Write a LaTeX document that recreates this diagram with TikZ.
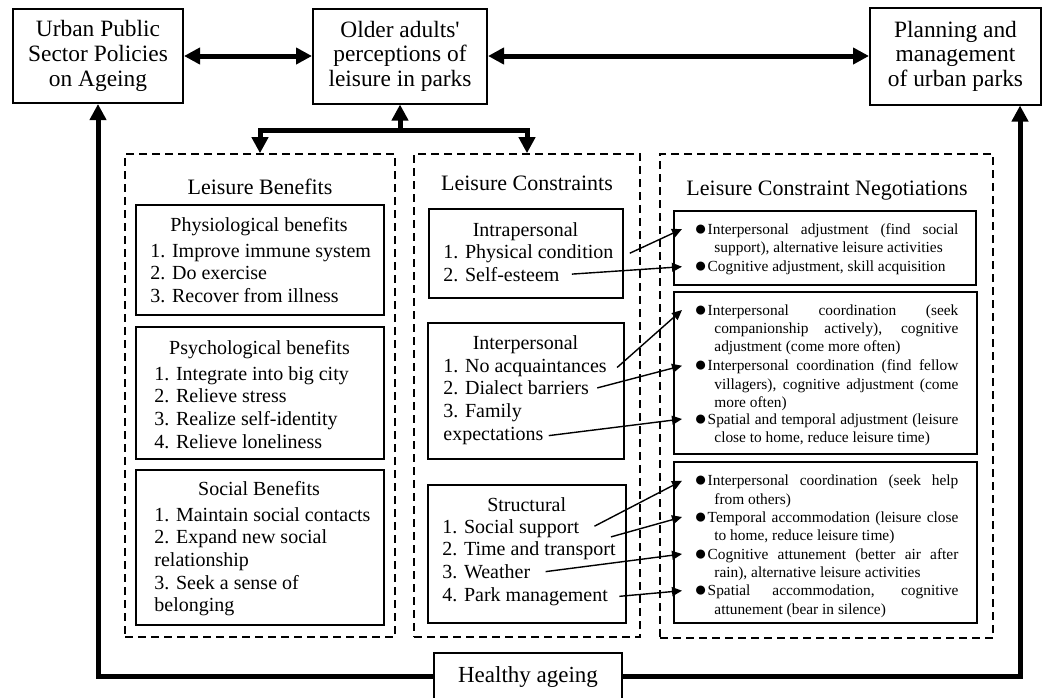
\documentclass[tikz,border=0pt]{standalone}
\usepackage{fontspec}
\setmainfont{Liberation Serif}
\usetikzlibrary{arrows.meta}

% bullet with hanging indent for the negotiation strategies
\newcommand{\tac}[1]{\hangindent=10pt\hangafter=1 \raisebox{-0.6pt}{\fontsize{10.5}{0}\selectfont ●}\kern0.3pt #1\par}

\begin{document}
\begin{tikzpicture}[x=0.5pt, y=-0.5pt,
            topbox/.style={draw, line width=1pt, inner sep=0pt, align=center, font=\fontsize{11.7}{12.3}\selectfont},
            panel/.style={draw, dash pattern=on 4pt off 2.5pt, line width=0.8pt, inner sep=0pt},
            group/.style={draw, line width=0.8pt, inner sep=0pt},
            head/.style={anchor=base, inner sep=0pt, font=\fontsize{10}{12}\selectfont},
            item/.style={anchor=base west, inner sep=0pt, font=\fontsize{10}{12}\selectfont},
            tactic/.style={anchor=base west, inner sep=0pt, text width=132pt, align=justify, font=\fontsize{7.7}{9.15}\selectfont},
            flow/.style={line width=2.5pt, >={Triangle[length=8pt, width=8pt]}, ->},
            link/.style={line width=0.7pt, >={Triangle[length=5pt, width=4.5pt]}, ->}
        ]
        \useasboundingbox (0,0) rectangle (1047,697);

        % top row
        \node[topbox, minimum width=85pt, minimum height=47pt] (urban) at (98,56) {Urban Public\\Sector Policies\\on Ageing};
        \node[topbox, minimum width=87pt, minimum height=47.5pt] (older) at (400,56) {Older adults\textquotesingle\\perceptions of\\leisure in parks};
        \node[topbox, minimum width=85.5pt, minimum height=48.5pt] (planning) at (955.5,56) {Planning and\\management\\of urban parks};
        \node[topbox, font=\fontsize{11.5}{13}\selectfont, minimum width=94pt, minimum height=23.5pt] (healthy) at (528,676.5) {Healthy ageing};

        % dashed panels
        \node[panel, minimum width=135pt, minimum height=241.5pt] (benefits) at (260,395.5) {};
        \node[panel, minimum width=113pt, minimum height=241.5pt] (constraints) at (527,395.5) {};
        \node[panel, minimum width=166.5pt, minimum height=242pt] (negotiations) at (826.5,396) {};

        \node[head, font=\fontsize{11}{13}\selectfont] (bentitle) at (260,194) {Leisure Benefits};
        \node[head, font=\fontsize{11}{13}\selectfont] (contitle) at (527,190) {Leisure Constraints};
        \node[head, font=\fontsize{11}{13}\selectfont] (negtitle) at (827,195) {Leisure Constraint Negotiations};

        % leisure benefits
        \node[group, minimum width=124pt, minimum height=55pt] (phys) at (260,260) {};
        \node[head] (physhead) at (259,231.5) {Physiological benefits};
        \foreach \t [count=\i] in {1. Improve immune system, 2. Do exercise, 3. Recover from illness} {
                \node[item] (phys\i) at (150, {234.3+22.7*\i}) {\t};
            }

        \node[group, minimum width=124pt, minimum height=66pt] (psych) at (260,393) {};
        \node[head] (psychhead) at (259.5,354) {Psychological benefits};
        \foreach \t [count=\i] in {1. Integrate into big city, 2. Relieve stress, 3. Realize self-identity, 4. Relieve loneliness} {
                \node[item] (psych\i) at (154, {357.3+22.7*\i}) {\t};
            }

        \node[group, minimum width=124pt, minimum height=77.5pt] (social) at (260,547.5) {};
        \node[head] (socialhead) at (259,495) {Social Benefits};
        \foreach \t [count=\i] in {1. Maintain social contacts, 2. Expand new social, relationship, 3. Seek a sense of, belonging} {
                \node[item] (social\i) at (154, {498.3+22.7*\i}) {\t};
            }

        % leisure constraints
        \node[group, minimum width=97pt, minimum height=44.5pt] (intra) at (526,253.5) {};
        \node[head] (intrahead) at (525.5,236) {Intrapersonal};
        \foreach \t [count=\i] in {1. Physical condition, 2. Self-esteem} {
                \node[item] (intra\i) at (443, {235+23*\i}) {\t};
            }

        \node[group, minimum width=98pt, minimum height=68pt] (inter) at (526,391) {};
        \node[head] (interhead) at (525.5,349) {Interpersonal};
        \foreach \t [count=\i] in {1. No acquaintances, 2. Dialect barriers, 3. Family, expectations} {
                \node[item] (inter\i) at (443, {349.3+22.7*\i}) {\t};
            }

        \node[group, minimum width=99pt, minimum height=69pt] (struc) at (527,554) {};
        \node[head] (struchead) at (526.7,511) {Structural};
        \foreach \t [count=\i] in {1. Social support, 2. Time and transport, 3. Weather, 4. Park management} {
                \node[item] (struc\i) at (442, {510.3+22.7*\i}) {\t};
            }

        % negotiation strategies
        \node[group, minimum width=151pt, minimum height=37pt] (nego1) at (825,248) {};
        \node[tactic] (n11) at (694,234) {\tac{Interpersonal adjustment (find social\linebreak support), alternative leisure activities}};
        \node[tactic] (n12) at (694,271.7) {\tac{Cognitive adjustment, skill acquisition}};

        \node[group, minimum width=151.5pt, minimum height=81pt] (nego2) at (825.5,373) {};
        \node[tactic] (n21) at (694,315) {\tac{Interpersonal coordination (seek\linebreak companionship actively), cognitive\linebreak adjustment (come more often)}};
        \node[tactic] (n22) at (694,370.7) {\tac{Interpersonal coordination (find fellow\linebreak villagers), cognitive adjustment (come\linebreak more often)}};
        \node[tactic] (n23) at (694,424) {\tac{Spatial and temporal adjustment (leisure\linebreak close to home, reduce leisure time)}};

        \node[group, minimum width=151.5pt, minimum height=80.5pt] (nego3) at (825.5,542.5) {};
        \node[tactic] (n31) at (694,485.7) {\tac{Interpersonal coordination (seek help\linebreak from others)}};
        \node[tactic] (n32) at (694,522) {\tac{Temporal accommodation (leisure close\linebreak to home, reduce leisure time)}};
        \node[tactic] (n33) at (694,559) {\tac{Cognitive attunement (better air after\linebreak rain), alternative leisure activities}};
        \node[tactic] (n34) at (694,595.7) {\tac{Spatial accommodation, cognitive\linebreak attunement (bear in silence)}};

        % thick connectors
        \draw[flow, <->] (urban) -- (older);
        \draw[flow, <->] (older) -- (planning);
        \coordinate (fork) at (400,130);
        \draw[flow] (fork) -- (older);
        \draw[flow] (fork) -| (benefits.north);
        \draw[flow] (fork) -| (constraints.north);
        \draw[flow] (healthy.west) -| (urban.south);
        \draw[flow] (healthy.east) -| ([xshift=32.25pt]planning.south);

        % constraint -> negotiation
        \foreach \s/\d/\dx/\dy in {intra1/n11/8/0, intra2/n12/6/0, inter1/n21/5/0, inter2/n22/4/0, inter4/n23/2.5/0,
                struc1/n31/7.5/1, struc2/n32/-2.5/7, struc3/n33/7.5/0, struc4/n34/5.5/0} {
                \draw[link] ([xshift=\dx pt, yshift=\dy pt]\s.east) -- ([xshift=-6pt, yshift=2.5pt]\d.base west);
            }
    \end{tikzpicture}
\end{document}
